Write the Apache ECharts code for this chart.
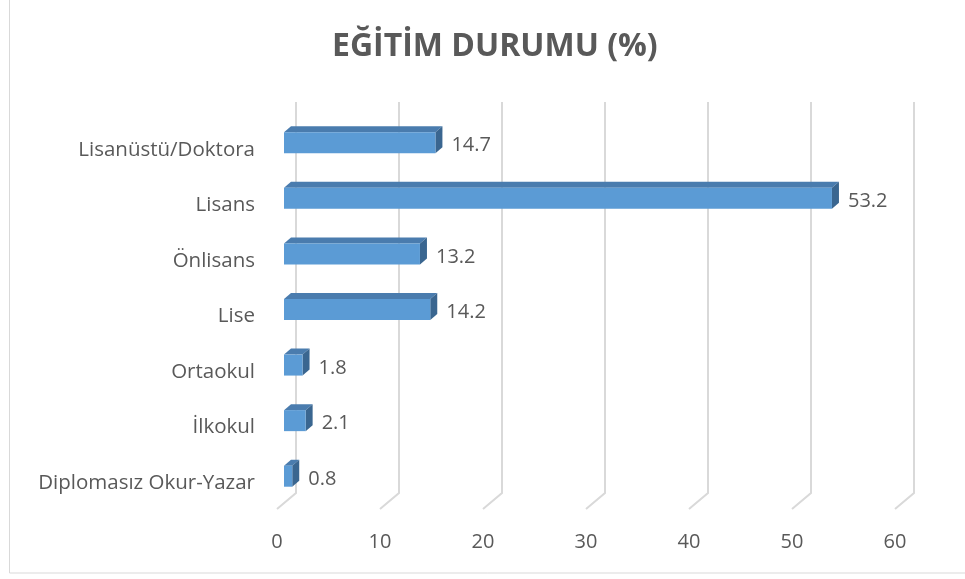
<!DOCTYPE html>
<html>
<head>
<meta charset="utf-8">
<script src="https://cdn.jsdelivr.net/npm/echarts@6/dist/echarts.min.js"></script>
<style>
  html, body { margin: 0; padding: 0; background: #fff; }
  #chart { width: 965px; height: 579px; }
</style>
</head>
<body>
<div id="chart"></div>
<script>
// kategoriler (alttan üste)
const categories = ['Diplomasız Okur-Yazar', 'İlkokul', 'Ortaokul', 'Lise', 'Önlisans', 'Lisans', 'Lisanüstü/Doktora'];
const values = [0.8, 2.1, 1.8, 14.2, 13.2, 53.2, 14.7];
const ticks = [0, 10, 20, 30, 40, 50, 60];

const FONT = '"Open Sans", sans-serif';
const TXT = '#595959';

const myChart = echarts.init(document.getElementById('chart'));

// arka duvar kaydırması (ön yüze göre)
const BACK_DX = 12, BACK_DY = -13;
// çubuk derinliği
const DEPTH_DX = 7, DEPTH_DY = -6;
const BAR_H = 21;

const option = {
  animation: false,
  title: {
    text: 'EĞİTİM DURUMU (%)',
    left: 327,
    top: 26,
    textStyle: { fontFamily: FONT, fontSize: 32, fontWeight: 'bold', color: TXT }
  },
  graphic: [{
    type: 'rect',
    shape: { x: 9.5, y: -2, width: 970, height: 575 },
    style: { fill: 'none', stroke: '#d9d9d9', lineWidth: 1 },
    silent: true
  }],
  grid: { left: 284, right: 63, top: 115, bottom: 75 },
  xAxis: {
    type: 'value',
    min: 0,
    max: 60,
    interval: 10,
    axisLine: { show: false },
    axisTick: { show: false },
    splitLine: { show: false },
    axisLabel: {
      margin: 28,
      padding: [0, 14, 0, 0],
      fontFamily: FONT,
      fontSize: 20,
      color: TXT
    }
  },
  yAxis: {
    type: 'category',
    data: categories,
    axisLine: { show: false },
    axisTick: { show: false },
    axisLabel: {
      margin: 29,
      verticalAlign: 'top',
      lineHeight: 14,
      fontFamily: FONT,
      fontSize: 20.5,
      color: TXT
    }
  },
  series: [
    {
      // ızgara çizgileri: arka duvar + taban köşegeni
      type: 'custom',
      z: 1,
      silent: true,
      data: ticks.map((t) => [t, 0]),
      renderItem: (params, api) => {
        const cs = params.coordSys;
        const x = api.coord([api.value(0), 0])[0];
        const bx = x + BACK_DX;
        const top = cs.y + BACK_DY;
        const bottom = cs.y + cs.height - 11;
        return {
          type: 'polyline',
          shape: { points: [[bx, top], [bx, bottom], [x - 7, cs.y + cs.height + 5]] },
          style: { fill: 'none', stroke: '#d9d9d9', lineWidth: 2 }
        };
      }
    },
    {
      type: 'custom',
      z: 2,
      data: values.map((v, i) => [v, i]),
      renderItem: (params, api) => {
        const v = api.value(0);
        const c = api.value(1);
        const p0 = api.coord([0, c]);
        const p1 = api.coord([v, c]);
        const x0 = p0[0], x1 = p1[0];
        const y0 = p0[1] - BAR_H / 2, y1 = p0[1] + BAR_H / 2;
        return {
          type: 'group',
          children: [
            {
              type: 'polygon',
              shape: { points: [[x0, y0], [x1, y0], [x1 + DEPTH_DX, y0 + DEPTH_DY], [x0 + DEPTH_DX, y0 + DEPTH_DY]] },
              style: { fill: '#4a7cae' }
            },
            {
              type: 'polygon',
              shape: { points: [[x1, y0], [x1 + DEPTH_DX, y0 + DEPTH_DY], [x1 + DEPTH_DX, y1 + DEPTH_DY], [x1, y1]] },
              style: { fill: '#3a6690' }
            },
            {
              type: 'rect',
              shape: { x: x0, y: y0, width: x1 - x0, height: BAR_H },
              style: { fill: '#5b9bd5' }
            },
            {
              type: 'text',
              style: {
                x: x1 + DEPTH_DX + 9,
                y: p0[1] + 3,
                text: String(v),
                verticalAlign: 'middle',
                align: 'left',
                fontFamily: FONT,
                fontSize: 20,
                fill: TXT
              }
            }
          ]
        };
      }
    }
  ]
};

option && myChart.setOption(option);
window.addEventListener('resize', myChart.resize);
</script>
</body>
</html>
